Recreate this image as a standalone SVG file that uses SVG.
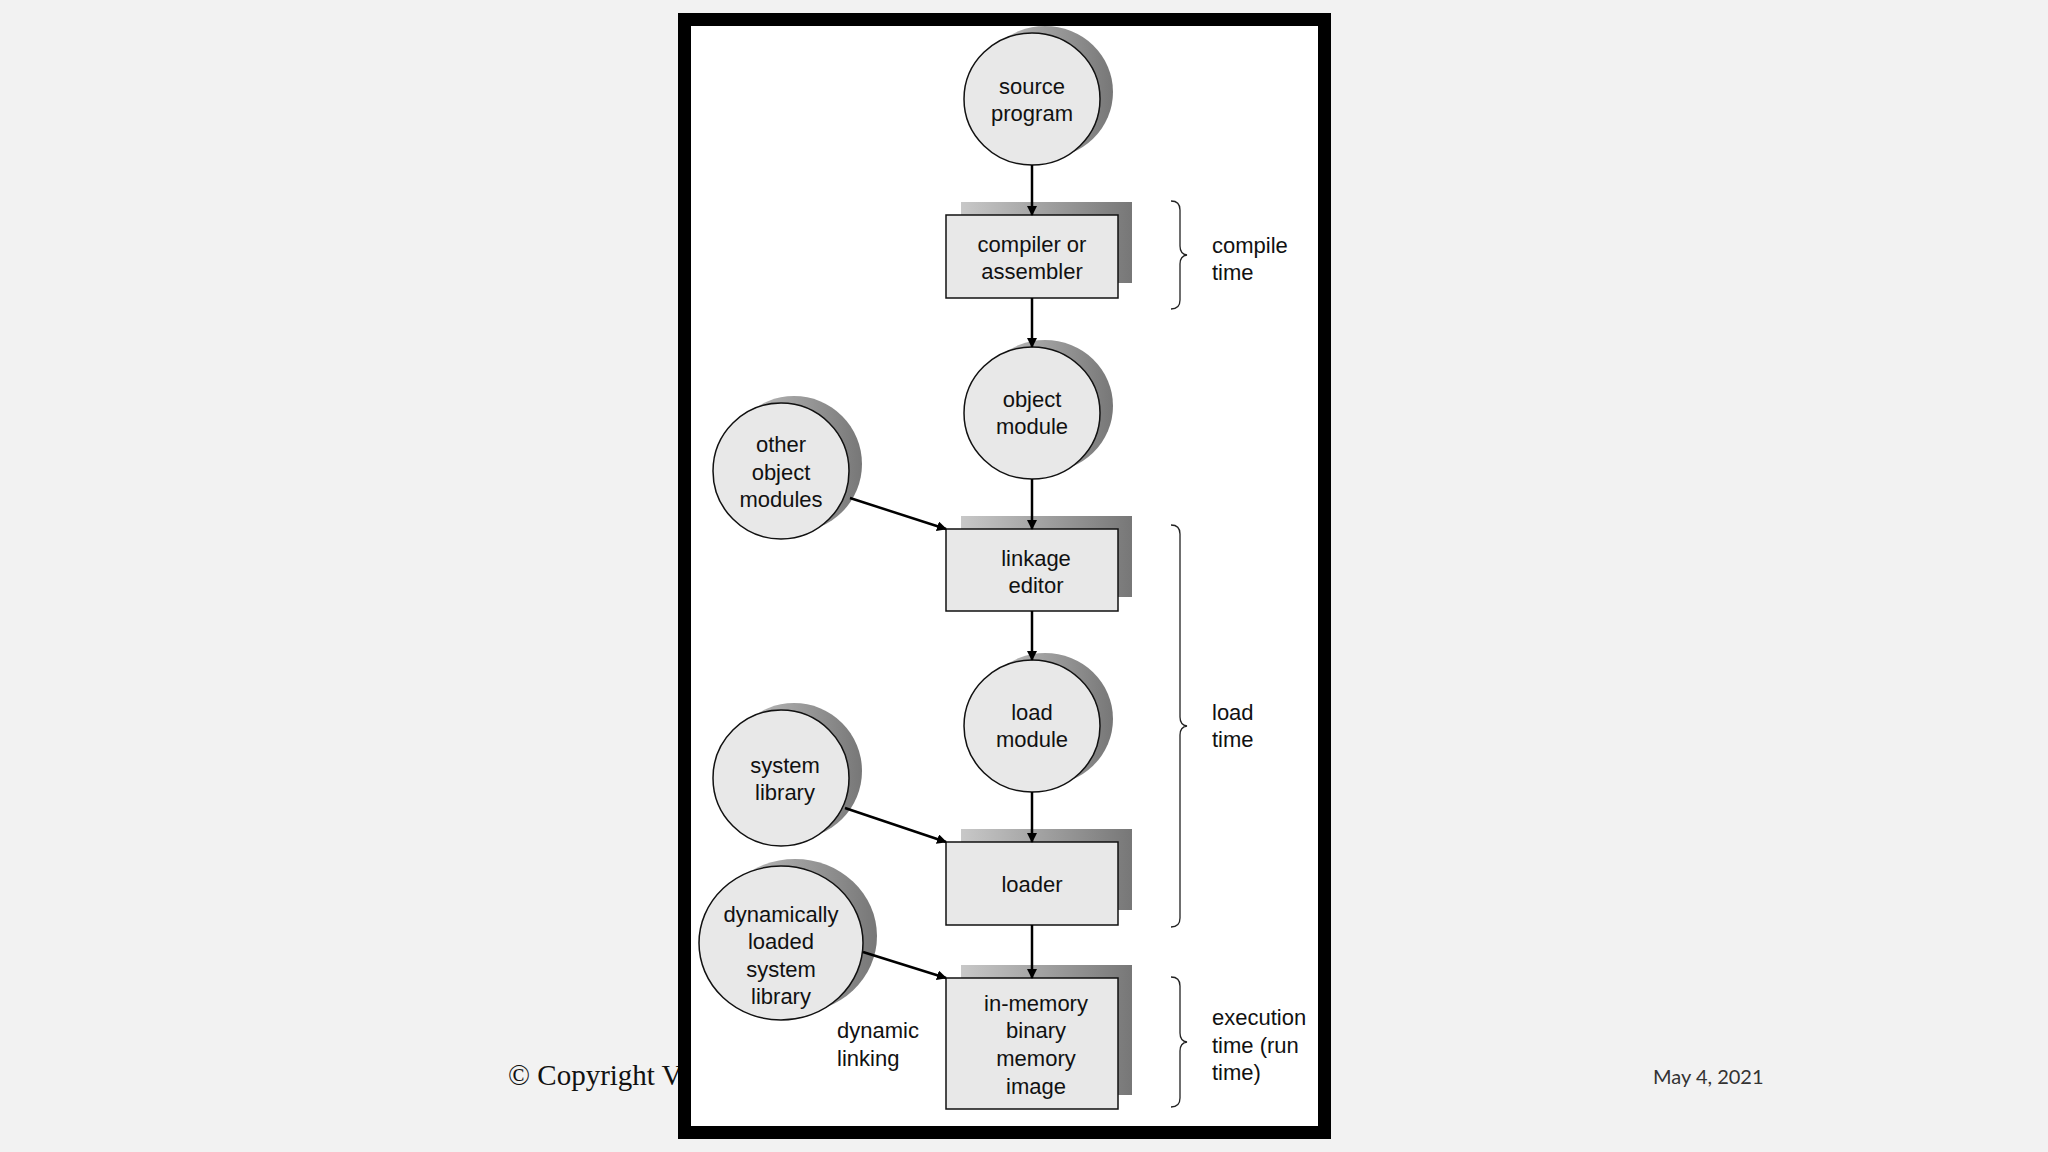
<svg xmlns="http://www.w3.org/2000/svg" width="2048" height="1152" viewBox="0 0 2048 1152">
<style>
.t{font-family:"Liberation Sans",Arial,sans-serif;font-size:22px;fill:#111;text-anchor:middle}
.l{font-family:"Liberation Sans",Arial,sans-serif;font-size:22px;fill:#111}
.node{fill:#e8e8e8;stroke:#111;stroke-width:1.5}
.sh{fill:url(#g)}
.c{stroke:#000;stroke-width:2.5;fill:none;marker-end:url(#a)}
.br{stroke:#222;stroke-width:1.3;fill:none}
</style>
<defs>
<linearGradient id="g" x1="0" y1="0" x2="1" y2="0"><stop offset="0" stop-color="#c8c8c8"/><stop offset="1" stop-color="#777"/></linearGradient>
<marker id="a" markerWidth="10" markerHeight="10" refX="9" refY="5" orient="auto" markerUnits="userSpaceOnUse" viewBox="0 0 10 10"><path d="M0,0L10,5L0,10z" fill="#000"/></marker>
</defs>
<rect width="2048" height="1152" fill="#f2f2f2"/>
<text x="508" y="1085" font-family="Liberation Serif,serif" font-size="29" fill="#111">© Copyright V</text>
<text x="1653" y="1084" font-family="Lato,sans-serif" font-size="20" fill="#333">May 4, 2021</text>
<rect x="684.5" y="19.5" width="640" height="1113" fill="#fff" stroke="#000" stroke-width="13"/>
<g id="source"><ellipse class="sh" cx="1045" cy="92" rx="68" ry="66"/><ellipse class="node" cx="1032" cy="99" rx="68" ry="66"/><text class="t" x="1032" y="94">source</text><text class="t" x="1032" y="121">program</text></g>
<g id="compiler"><rect class="sh" x="961" y="202" width="171" height="81"/><rect class="node" x="946" y="215" width="172" height="83"/><text class="t" x="1032" y="252">compiler or</text><text class="t" x="1032" y="279">assembler</text></g>
<g id="object"><ellipse class="sh" cx="1045" cy="406" rx="68" ry="66"/><ellipse class="node" cx="1032" cy="413" rx="68" ry="66"/><text class="t" x="1032" y="407">object</text><text class="t" x="1032" y="434">module</text></g>
<g id="other"><ellipse class="sh" cx="794" cy="464" rx="68" ry="68"/><ellipse class="node" cx="781" cy="471" rx="68" ry="68"/><text class="t" x="781" y="452">other</text><text class="t" x="781" y="480">object</text><text class="t" x="781" y="507">modules</text></g>
<g id="linkage"><rect class="sh" x="961" y="516" width="171" height="81"/><rect class="node" x="946" y="529" width="172" height="82"/><text class="t" x="1036" y="566">linkage</text><text class="t" x="1036" y="593">editor</text></g>
<g id="load"><ellipse class="sh" cx="1045" cy="719" rx="68" ry="66"/><ellipse class="node" cx="1032" cy="726" rx="68" ry="66"/><text class="t" x="1032" y="720">load</text><text class="t" x="1032" y="747">module</text></g>
<g id="syslib"><ellipse class="sh" cx="794" cy="771" rx="68" ry="68"/><ellipse class="node" cx="781" cy="778" rx="68" ry="68"/><text class="t" x="785" y="773">system</text><text class="t" x="785" y="800">library</text></g>
<g id="loader"><rect class="sh" x="961" y="829" width="171" height="81"/><rect class="node" x="946" y="842" width="172" height="83"/><text class="t" x="1032" y="892">loader</text></g>
<g id="dynlib"><ellipse class="sh" cx="795" cy="936" rx="82" ry="77"/><ellipse class="node" cx="781" cy="943" rx="82" ry="77"/><text class="t" x="781" y="922">dynamically</text><text class="t" x="781" y="949">loaded</text><text class="t" x="781" y="977">system</text><text class="t" x="781" y="1004">library</text></g>
<g id="inmem"><rect class="sh" x="961" y="965" width="171" height="130"/><rect class="node" x="946" y="978" width="172" height="131"/><text class="t" x="1036" y="1011">in-memory</text><text class="t" x="1036" y="1038">binary</text><text class="t" x="1036" y="1066">memory</text><text class="t" x="1036" y="1094">image</text></g>
<g id="connectors">
<line class="c" x1="1032" y1="165" x2="1032" y2="215"/>
<line class="c" x1="1032" y1="298" x2="1032" y2="347"/>
<line class="c" x1="1032" y1="479" x2="1032" y2="529"/>
<line class="c" x1="1032" y1="611" x2="1032" y2="660"/>
<line class="c" x1="1032" y1="792" x2="1032" y2="842"/>
<line class="c" x1="1032" y1="925" x2="1032" y2="978"/>
<line class="c" x1="850" y1="498" x2="946" y2="529"/>
<line class="c" x1="845" y1="808" x2="946" y2="842"/>
<line class="c" x1="863" y1="952" x2="946" y2="978"/>
</g>
<g id="brackets">
<path class="br" d="M1171,201 q9,0 9,9 v36 q0,8 7,9 q-7,1 -7,9 v36 q0,9 -9,9"/>
<path class="br" d="M1171,525 q9,0 9,9 v183 q0,8 7,9 q-7,1 -7,9 v183 q0,9 -9,9"/>
<path class="br" d="M1171,977 q9,0 9,9 v47 q0,8 7,9 q-7,1 -7,9 v47 q0,9 -9,9"/>
<text class="l" x="1212" y="253">compile</text><text class="l" x="1212" y="280">time</text>
<text class="l" x="1212" y="720">load</text><text class="l" x="1212" y="747">time</text>
<text class="l" x="1212" y="1025">execution</text><text class="l" x="1212" y="1053">time  (run</text><text class="l" x="1212" y="1080">time)</text>
<text class="l" x="837" y="1038">dynamic</text><text class="l" x="837" y="1066">linking</text>
</g>
</svg>
